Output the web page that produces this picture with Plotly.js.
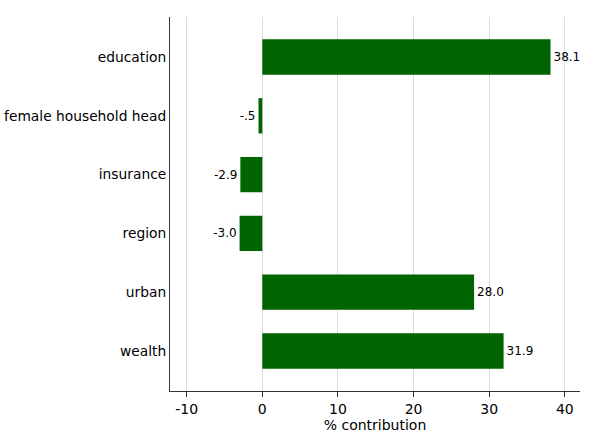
<!DOCTYPE html>
<html lang="en">
<head>
    <meta charset="UTF-8">
    <title>% contribution</title>
    <script src="https://cdn.plot.ly/plotly-3.0.1.min.js"></script>
    <style>
        body { margin: 0; background: white; }
        #plot-area { width: 600px; height: 438px; }
    </style>
</head>
<body>
    <div id="plot-area"></div>

    <script>
        // Decomposition data
        const factors = ['education', 'female household head', 'insurance', 'region', 'urban', 'wealth'];
        const contributions = [38.1, -0.5, -2.9, -3.0, 28.0, 31.9];
        const xTicks = [-10, 0, 10, 20, 30, 40];

        // Stata-style labels: -.5 instead of -0.5, plain hyphen minus
        const labels = contributions.map(v => {
            let s = v.toFixed(1);
            return Math.abs(v) < 1 ? s.replace('0.', '.') : s;
        });

        const trace = {
            type: 'bar',
            orientation: 'h',
            x: contributions,
            y: factors,
            text: labels,
            textposition: 'outside',
            textfont: { size: 12, color: '#000' },
            cliponaxis: false,
            marker: { color: '#006400' },
            width: 0.6,
            hoverinfo: 'x+y'
        };

        const layout = {
            width: 600,
            height: 438,
            margin: { l: 170, r: 20, t: 17, b: 47 },
            font: { family: 'DejaVu Sans, Verdana, sans-serif', color: '#000' },
            paper_bgcolor: 'white',
            plot_bgcolor: 'white',
            showlegend: false,
            xaxis: {
                range: [-12.2, 42],
                tickvals: xTicks,
                ticktext: xTicks.map(String),
                ticks: 'outside',
                ticklen: 5,
                tickcolor: '#333',
                tickfont: { size: 14 },
                showgrid: true,
                gridcolor: '#dcdcdc',
                zeroline: true,
                zerolinecolor: '#dcdcdc',
                zerolinewidth: 1,
                showline: true,
                linecolor: '#333',
                linewidth: 1,
                title: { text: '% contribution', font: { size: 14 }, standoff: 2 }
            },
            yaxis: {
                range: [5.68, -0.68],
                showgrid: false,
                zeroline: false,
                showline: true,
                linecolor: '#333',
                linewidth: 1,
                ticks: '',
                ticklen: 0,
                tickfont: { size: 13.8 },
                automargin: false
            }
        };

        Plotly.newPlot('plot-area', [trace], layout, { displayModeBar: false, staticPlot: true });
    </script>
</body>
</html>
